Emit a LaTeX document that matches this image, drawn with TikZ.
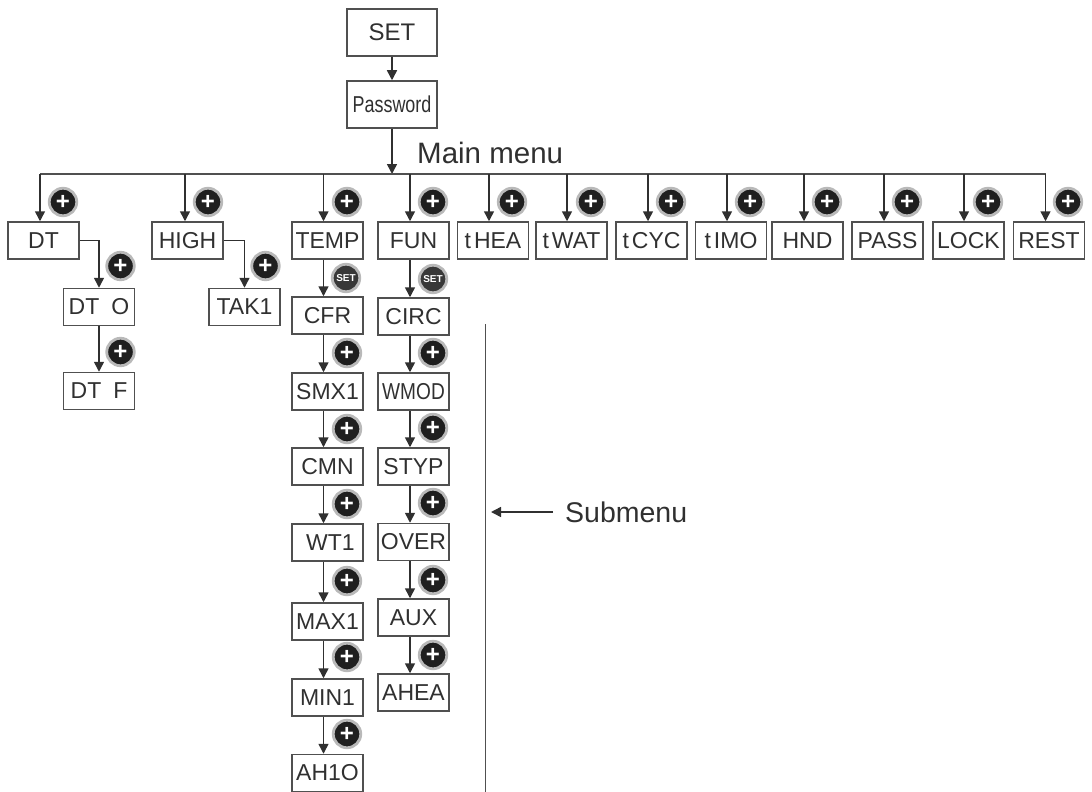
\documentclass[tikz,border=0pt]{standalone}
\usepackage{graphicx}
\usepackage{fontspec}
\setmainfont{Liberation Sans}
\usetikzlibrary{arrows.meta,positioning}

\begin{document}
\begin{tikzpicture}[x=1pt,y=-1pt]
        \tikzset{
            menubox/.style={draw=boxgray,line width=1.5pt,text=inkgray,minimum width=71pt,minimum height=37pt,inner sep=0pt,font=\fontsize{23}{23}\selectfont},
            topbox/.style={menubox,minimum width=90pt,minimum height=47pt},
            flow/.style={draw=inkgray,line width=1.5pt,-{Triangle[length=10pt,width=10pt]}},
            plusbtn/.style={circle,fill=black!88,draw=gray!55,line width=2.8pt,minimum size=27.5pt,inner sep=0pt,text=white,font=\bfseries\fontsize{24}{24}\selectfont},
            setbtn/.style={plusbtn,fill=black!78,font=\bfseries\fontsize{10}{10}\selectfont},
            heading/.style={text=inkgray,inner sep=0pt,anchor=base west,font=\fontsize{29.5}{30}\selectfont}
        }
        \definecolor{boxgray}{HTML}{505050}
        \definecolor{inkgray}{HTML}{303030}
        \useasboundingbox (0,0) rectangle (1092,792);
        \node[topbox,font=\fontsize{24}{24}\selectfont] (set) at (392,32.5) {SET};
        \node[topbox] (password) at (392,104.5) {\scalebox{.78}[1]{Password}};
        \node[heading] (mainmenu) at (417,163) {Main menu};
        \node[heading,font=\fontsize{28.5}{29}\selectfont] (submenu) at (565,522) {Submenu};
        \coordinate (busdt) at (40,174);
        \coordinate (bushigh) at (185,174);
        \coordinate (bustemp) at (323.5,174);
        \coordinate (buspw) at (392,174);
        \coordinate (busfun) at (410,174);
        \coordinate (busthea) at (489,174);
        \coordinate (bustwat) at (567,174);
        \coordinate (bustcyc) at (648,174);
        \coordinate (bustimo) at (727,174);
        \coordinate (bushnd) at (804,174);
        \coordinate (buspass) at (884,174);
        \coordinate (buslock) at (964,174);
        \coordinate (busrest) at (1045.5,174);
        \node[menubox] (dt) at (43.5,240.5) {DT};
        \node[menubox] (high) at (187.5,240.5) {HIGH};
        \node[menubox] (temp) at (327.5,240.5) {TEMP};
        \node[menubox] (fun) at (413.5,240.5) {FUN};
        \node[menubox] (thea) at (493,240.5) {t\kern3pt HEA};
        \node[menubox] (twat) at (571.5,240.5) {t\kern3pt WAT};
        \node[menubox] (tcyc) at (651.5,240.5) {t\kern3pt CYC};
        \node[menubox] (timo) at (731,240.5) {t\kern3pt IMO};
        \node[menubox] (hnd) at (807.5,240.5) {HND};
        \node[menubox] (pass) at (887.5,240.5) {PASS};
        \node[menubox] (lock) at (968.5,240.5) {LOCK};
        \node[menubox] (rest) at (1049,240.5) {REST};
        \node[menubox] (dto) at (99,307) {DT\kern12pt O};
        \node[menubox] (dtf) at (99,391) {DT\kern12pt F};
        \node[menubox] (tak) at (244.5,307) {TAK1};
        \node[menubox] (cfr) at (327.5,315.5) {CFR};
        \node[menubox] (smx) at (327.5,391.5) {SMX1};
        \node[menubox] (cmn) at (327.5,466.5) {CMN};
        \node[menubox] (wt) at (327.5,542.5) {\kern6pt WT1};
        \node[menubox] (max) at (327.5,621.5) {MAX1};
        \node[menubox] (min) at (327.5,697.5) {MIN1};
        \node[menubox] (aho) at (327.5,773) {AH1O};
        \node[menubox] (circ) at (413.5,316.5) {CIRC};
        \node[menubox] (wmod) at (413.5,391.5) {\scalebox{.83}[1]{WMOD}};
        \node[menubox] (styp) at (413.5,466.5) {STYP};
        \node[menubox] (over) at (413.5,542) {OVER};
        \node[menubox] (aux) at (413.5,617.5) {AUX};
        \node[menubox] (ahea) at (413.5,692.5) {AHEA};
        \draw[flow] (set) -- (password);
        \draw[flow] (password) -- (buspw);
        \draw[draw=boxgray,line width=1.5pt] (busdt) -- (busrest);
        \draw[flow] (busdt) -- (busdt |- dt.north);
        \draw[flow] (bushigh) -- (bushigh |- high.north);
        \draw[flow] (bustemp) -- (bustemp |- temp.north);
        \draw[flow] (busfun) -- (busfun |- fun.north);
        \draw[flow] (busthea) -- (busthea |- thea.north);
        \draw[flow] (bustwat) -- (bustwat |- twat.north);
        \draw[flow] (bustcyc) -- (bustcyc |- tcyc.north);
        \draw[flow] (bustimo) -- (bustimo |- timo.north);
        \draw[flow] (bushnd) -- (bushnd |- hnd.north);
        \draw[flow] (buspass) -- (buspass |- pass.north);
        \draw[flow] (buslock) -- (buslock |- lock.north);
        \draw[flow] (busrest) -- (busrest |- rest.north);
        \draw[flow] (dt.east) -| (dto.north);
        \draw[flow] (dto) -- (dtf);
        \draw[flow] (high.east) -| (tak.north);
        \draw[flow] ([xshift=-4pt]temp.south) -- ([xshift=-4pt]cfr.north);
        \draw[flow] ([xshift=-4pt]cfr.south) -- ([xshift=-4pt]smx.north);
        \draw[flow] ([xshift=-4pt]smx.south) -- ([xshift=-4pt]cmn.north);
        \draw[flow] ([xshift=-4pt]cmn.south) -- ([xshift=-4pt]wt.north);
        \draw[flow] ([xshift=-4pt]wt.south) -- ([xshift=-4pt]max.north);
        \draw[flow] ([xshift=-4pt]max.south) -- ([xshift=-4pt]min.north);
        \draw[flow] ([xshift=-4pt]min.south) -- ([xshift=-4pt]aho.north);
        \draw[flow] ([xshift=-3.5pt]fun.south) -- ([xshift=-3.5pt]circ.north);
        \draw[flow] ([xshift=-3.5pt]circ.south) -- ([xshift=-3.5pt]wmod.north);
        \draw[flow] ([xshift=-3.5pt]wmod.south) -- ([xshift=-3.5pt]styp.north);
        \draw[flow] ([xshift=-3.5pt]styp.south) -- ([xshift=-3.5pt]over.north);
        \draw[flow] ([xshift=-3.5pt]over.south) -- ([xshift=-3.5pt]aux.north);
        \draw[flow] ([xshift=-3.5pt]aux.south) -- ([xshift=-3.5pt]ahea.north);
        \node[plusbtn] (pdt) at (63,202) {+};
        \node[plusbtn] (phigh) at (208,202) {+};
        \node[plusbtn] (ptemp) at (347,202) {+};
        \node[plusbtn] (pfun) at (433,202) {+};
        \node[plusbtn] (pthea) at (512,202) {+};
        \node[plusbtn] (ptwat) at (591,202) {+};
        \node[plusbtn] (ptcyc) at (671,202) {+};
        \node[plusbtn] (ptimo) at (750,202) {+};
        \node[plusbtn] (phnd) at (827,202) {+};
        \node[plusbtn] (ppass) at (907,202) {+};
        \node[plusbtn] (plock) at (988,202) {+};
        \node[plusbtn] (prest) at (1068,202) {+};
        \node[plusbtn] (pdto) at (120.5,266) {+};
        \node[plusbtn] (pdtf) at (120.5,352) {+};
        \node[plusbtn] (ptak) at (265.5,266) {+};
        \node[setbtn] (scfr) at (346,278) {SET};
        \node[plusbtn] (psmx) at (347,353) {+};
        \node[plusbtn] (pcmn) at (347,429) {+};
        \node[plusbtn] (pwt) at (347,504) {+};
        \node[plusbtn] (pmax) at (347,581) {+};
        \node[plusbtn] (pmin) at (347,657) {+};
        \node[plusbtn] (paho) at (347,734) {+};
        \node[setbtn] (scirc) at (433,279) {SET};
        \node[plusbtn] (pwmod) at (433,353) {+};
        \node[plusbtn] (pstyp) at (433,428) {+};
        \node[plusbtn] (pover) at (433,503) {+};
        \node[plusbtn] (paux) at (433,580) {+};
        \node[plusbtn] (pahea) at (433,655) {+};
        \coordinate (subtop) at (485.7,324);
        \coordinate (subbot) at (485.7,792);
        \coordinate (subtail) at (553,512);
        \coordinate (subhead) at (491,512);
        \draw[draw=boxgray,line width=1.5pt] (subtop) -- (subbot);
        \draw[flow] (subtail) -- (subhead);
    \end{tikzpicture}
\end{document}
